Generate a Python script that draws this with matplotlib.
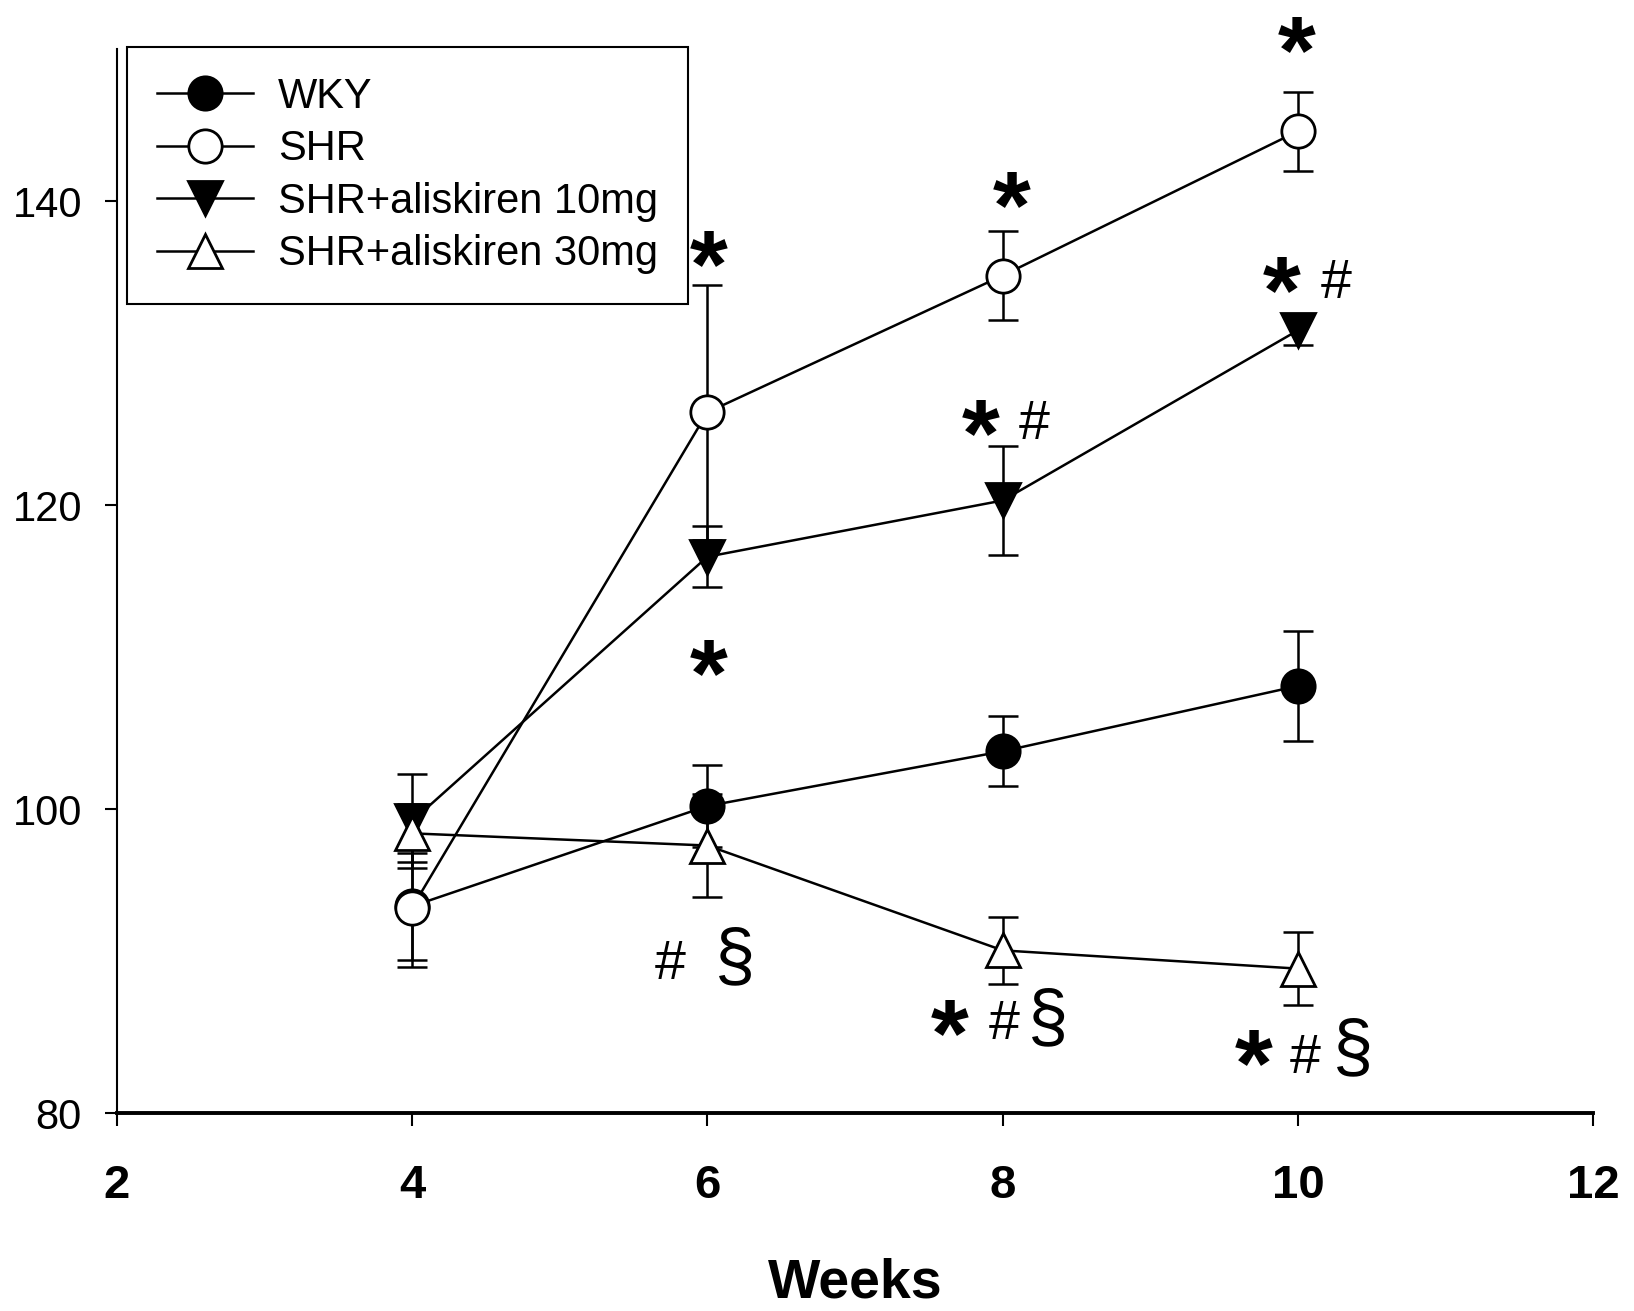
import matplotlib
matplotlib.use('Agg')
import matplotlib.pyplot as plt
from matplotlib.font_manager import FontProperties
from matplotlib.textpath import TextPath

plt.rcParams['font.family'] = ['Liberation Sans', 'DejaVu Sans']

weeks = [4, 6, 8, 10]

wky = [93.6, 100.2, 103.8, 108.1]
wky_err = [3.5, 2.7, 2.3, 3.6]
shr = [93.5, 126.1, 135.1, 144.6]
shr_err = [3.9, 8.4, 2.9, 2.6]
ali10 = [99.2, 116.6, 120.3, 131.5]
ali10_err = [3.1, 2.0, 3.6, 1.0]
ali30 = [98.4, 97.6, 90.7, 89.5]
ali30_err = [1.9, 3.4, 2.2, 2.4]

series_names = ['WKY', 'SHR', 'SHR+aliskiren 10mg', 'SHR+aliskiren 30mg']

# significance marks: (week, y, symbol)
sig_marks = [
    (6.01, 136.9, '*'), (8.06, 140.8, '*'), (9.99, 151.0, '*'),
    (9.89, 135.2, '*'), (10.26, 134.9, '#'),
    (7.85, 125.8, '*'), (8.21, 125.6, '#'),
    (6.01, 110.0, '*'),
    (5.75, 90.1, '#'), (6.19, 90.4, '\u00a7'),
    (7.64, 86.3, '*'), (8.01, 86.1, '#'), (8.31, 86.4, '\u00a7'),
    (9.70, 84.3, '*'), (10.05, 83.9, '#'), (10.37, 84.4, '\u00a7'),
]

fig = plt.figure(figsize=(16.34, 13.11), dpi=100)
ax = fig.add_axes([0.0714, 0.151, 0.9038, 0.8116])

styles = [
    dict(marker='o', mfc='black', ms=24),
    dict(marker='o', mfc='white', ms=24),
    dict(marker='v', mfc='black', ms=25),
    dict(marker='^', mfc='white', ms=25),
]
values = [wky, shr, ali10, ali30]
errors = [wky_err, shr_err, ali10_err, ali30_err]

lw = 1.8
for vals in values:
    ax.plot(weeks, vals, color='black', lw=lw, zorder=2)
for vals, err in zip(values, errors):
    ax.errorbar(weeks, vals, yerr=err, fmt='none', ecolor='black',
                elinewidth=lw, capsize=11, capthick=lw, zorder=2.5)
for i, (vals, st) in enumerate(zip(values, styles)):
    ax.plot(weeks, vals, color='black', lw=lw, mec='black', mew=2,
            linestyle='none', zorder=3 + i, **st)

# legend handles show line + marker
leg_handles = []
for st in styles:
    h, = ax.plot([], [], color='black', lw=lw, mec='black', mew=2, **st)
    leg_handles.append(h)
leg = ax.legend(leg_handles, series_names, loc='upper left',
                bbox_to_anchor=(0.007, 1.002), borderaxespad=0,
                fontsize=30, frameon=True, fancybox=False, framealpha=1,
                edgecolor='black', handlelength=2.3, handletextpad=0.6,
                labelspacing=0.3, borderpad=0.72)
leg.get_frame().set_linewidth(1.5)

# significance symbols, centred on their glyph outlines
fonts = {
    '*': (FontProperties(family='Liberation Sans', weight='bold'), 70),
    '#': (FontProperties(family='Liberation Sans'), 40),
    '\u00a7': (FontProperties(family='Liberation Sans'), 52),
}
for x, y, sym in sig_marks:
    fp, size = fonts[sym]
    ext = TextPath((0, 0), sym, size=size, prop=fp).get_extents()
    dx = -(ext.x0 + ext.x1) / 2
    dy = -(ext.y0 + ext.y1) / 2
    ax.annotate(sym, xy=(x, y), xytext=(dx, dy), textcoords='offset points',
                ha='left', va='baseline', fontproperties=fp, fontsize=size,
                annotation_clip=False, zorder=10)

ax.set_xlim(2, 12)
ax.set_ylim(80, 150)
ax.set_xticks([2, 4, 6, 8, 10, 12])
ax.set_yticks([80, 100, 120, 140])
for lab in ax.get_xticklabels():
    lab.set_fontweight('bold')
ax.tick_params(axis='x', direction='out', length=9, width=1.5, pad=28,
               labelsize=34)
ax.tick_params(axis='y', direction='out', length=9, width=1.5, pad=16,
               labelsize=30)
ax.spines['top'].set_visible(False)
ax.spines['right'].set_visible(False)
ax.spines['left'].set_linewidth(1.5)
ax.spines['bottom'].set_linewidth(2.8)
ax.set_xlabel('Weeks', fontsize=40, fontweight='bold', labelpad=35)

plt.savefig('out.png', dpi=100)
